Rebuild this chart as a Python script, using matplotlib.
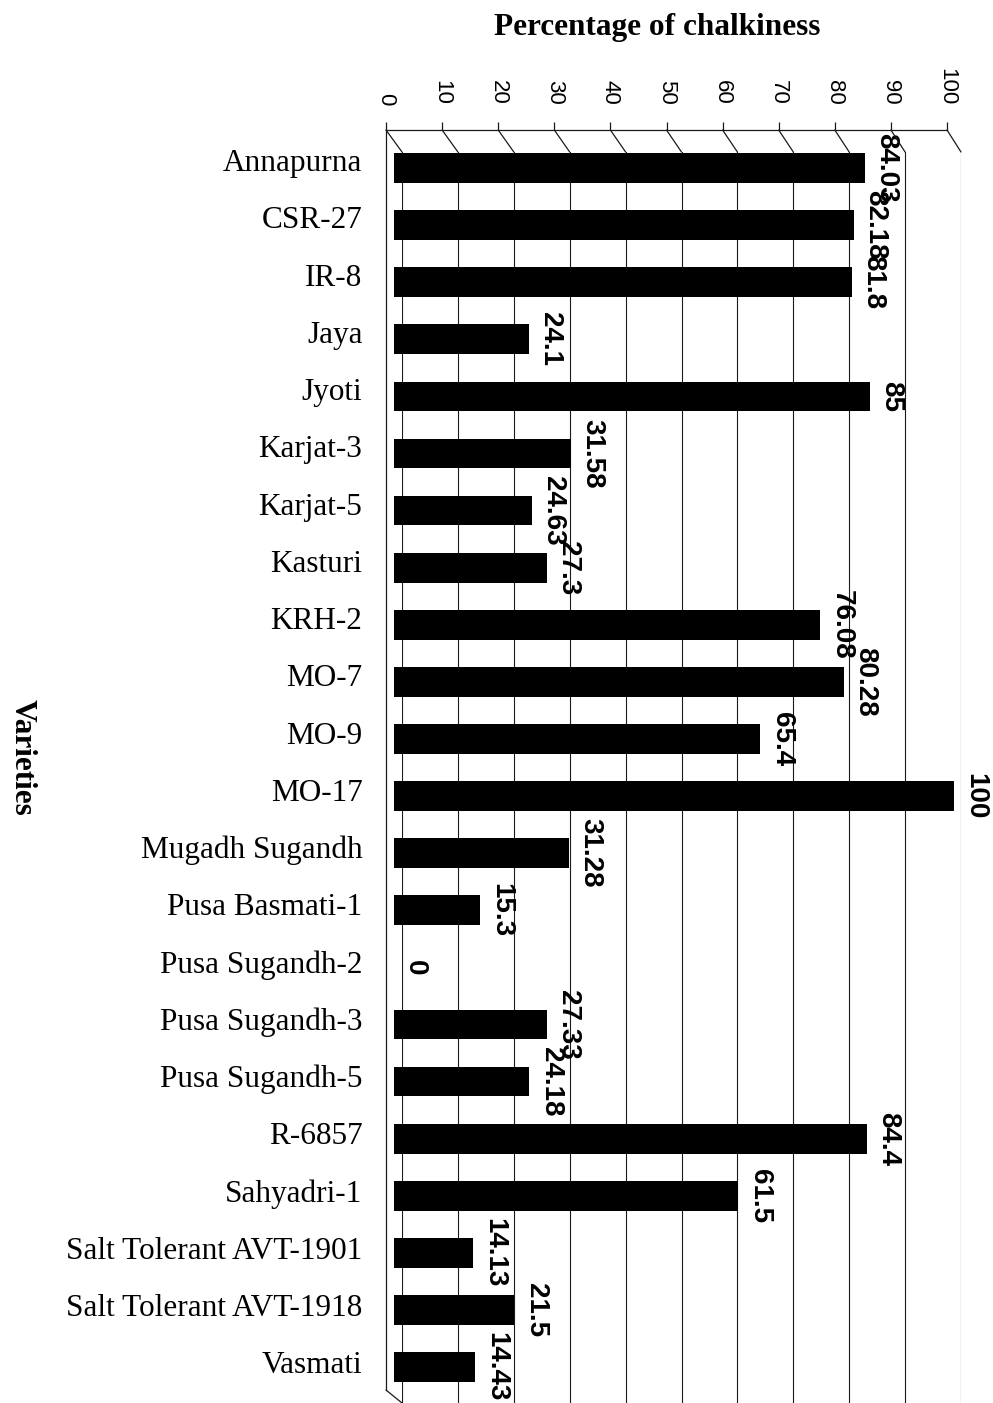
import matplotlib.pyplot as plt
from matplotlib.patches import ConnectionPatch

varieties = ["Annapurna", "CSR-27", "IR-8", "Jaya", "Jyoti", "Karjat-3", "Karjat-5",
             "Kasturi", "KRH-2", "MO-7", "MO-9", "MO-17", "Mugadh Sugandh",
             "Pusa Basmati-1", "Pusa Sugandh-2", "Pusa Sugandh-3", "Pusa Sugandh-5",
             "R-6857", "Sahyadri-1", "Salt Tolerant AVT-1901", "Salt Tolerant AVT-1918",
             "Vasmati"]
chalkiness = [84.03, 82.18, 81.8, 24.1, 85, 31.58, 24.63, 27.3, 76.08, 80.28, 65.4, 100,
              31.28, 15.3, 0, 27.33, 24.18, 84.4, 61.5, 14.13, 21.5, 14.43]
ticks = list(range(0, 101, 10))

W, H = 993, 1403
fig = plt.figure(figsize=(W / 100, H / 100), dpi=100)
n = len(varieties)
line_col = "#1a1a1a"


def px_axes(left, right, top, bottom):
    # place an axes using pixel edges of the image
    return fig.add_axes([left / W, 1 - bottom / H, (right - left) / W, (bottom - top) / H])


# back wall with the vertical gridlines (pseudo 3d, shifted right/down)
ax_back = px_axes(402, 961, 152, 1403)
ax_back.set_xlim(0, 100)
ax_back.set_ylim((1403 - 168) / 57.1, -(168 - 152) / 57.1)
for t in ticks:
    ax_back.axvline(t, color=line_col, lw=0.8)
ax_back.set_xticks([])
ax_back.set_yticks([])
for s in ax_back.spines.values():
    s.set_visible(False)

# bars at mid depth
ax = px_axes(394, 954, 152, 1403)
ax.set_xlim(0, 100)
ax.set_ylim((1403 - 168) / 57.1, -(168 - 152) / 57.1)
ax.axis("off")
ax.patch.set_visible(False)
ax.barh(range(n), chalkiness, height=0.52, color="black")
for i, v in enumerate(chalkiness):
    ax.annotate(f"{v:g}", (v, i), xytext=(6, 0), textcoords="offset points",
                rotation=-90, ha="left", va="center", fontsize=20, fontweight="bold",
                family=["Liberation Sans Narrow", "Liberation Sans"])

# front plane: top value axis and category labels
ax_front = px_axes(386, 947, 130, 1390)
ax_front.set_xlim(0, 100)
ax_front.set_ylim((1390 - 160) / 57.25, -(160 - 130) / 57.25)
ax_front.patch.set_visible(False)
for side in ["right", "bottom"]:
    ax_front.spines[side].set_visible(False)
for side in ["top", "left"]:
    ax_front.spines[side].set_color(line_col)
    ax_front.spines[side].set_linewidth(0.9)
ax_front.xaxis.tick_top()
ax_front.set_xticks(ticks)
ax_front.set_xticklabels([str(t) for t in ticks], rotation=-90,
                         family="Liberation Sans", fontsize=16)
ax_front.tick_params(axis="x", length=6, width=0.9, pad=12, color=line_col)
ax_front.set_yticks(range(n))
ax_front.set_yticklabels(varieties, family="Liberation Serif", fontsize=22.5)
ax_front.tick_params(axis="y", length=0, pad=17)

# slanted edges joining the front axis to the back wall
y_front_top = ax_front.get_ylim()[1]
y_back_top = ax_back.get_ylim()[1]
for t in ticks:
    con = ConnectionPatch(xyA=(t, y_front_top), coordsA=ax_front.transData,
                          xyB=(t, y_back_top), coordsB=ax_back.transData,
                          color=line_col, lw=0.9)
    fig.add_artist(con)
con = ConnectionPatch(xyA=(0, ax_front.get_ylim()[0]), coordsA=ax_front.transData,
                      xyB=(0, ax_back.get_ylim()[0]), coordsB=ax_back.transData,
                      color=line_col, lw=0.9)
fig.add_artist(con)

fig.text(657 / W, 1 - 28 / H, "Percentage of chalkiness", ha="center", va="center",
         family="Liberation Serif", fontweight="bold", fontsize=22.5)
fig.text(22 / W, 1 - 757 / H, "Varieties", ha="center", va="center", rotation=-90,
         family="Liberation Serif", fontweight="bold", fontsize=22.5)

fig.savefig("out.png", dpi=100)
